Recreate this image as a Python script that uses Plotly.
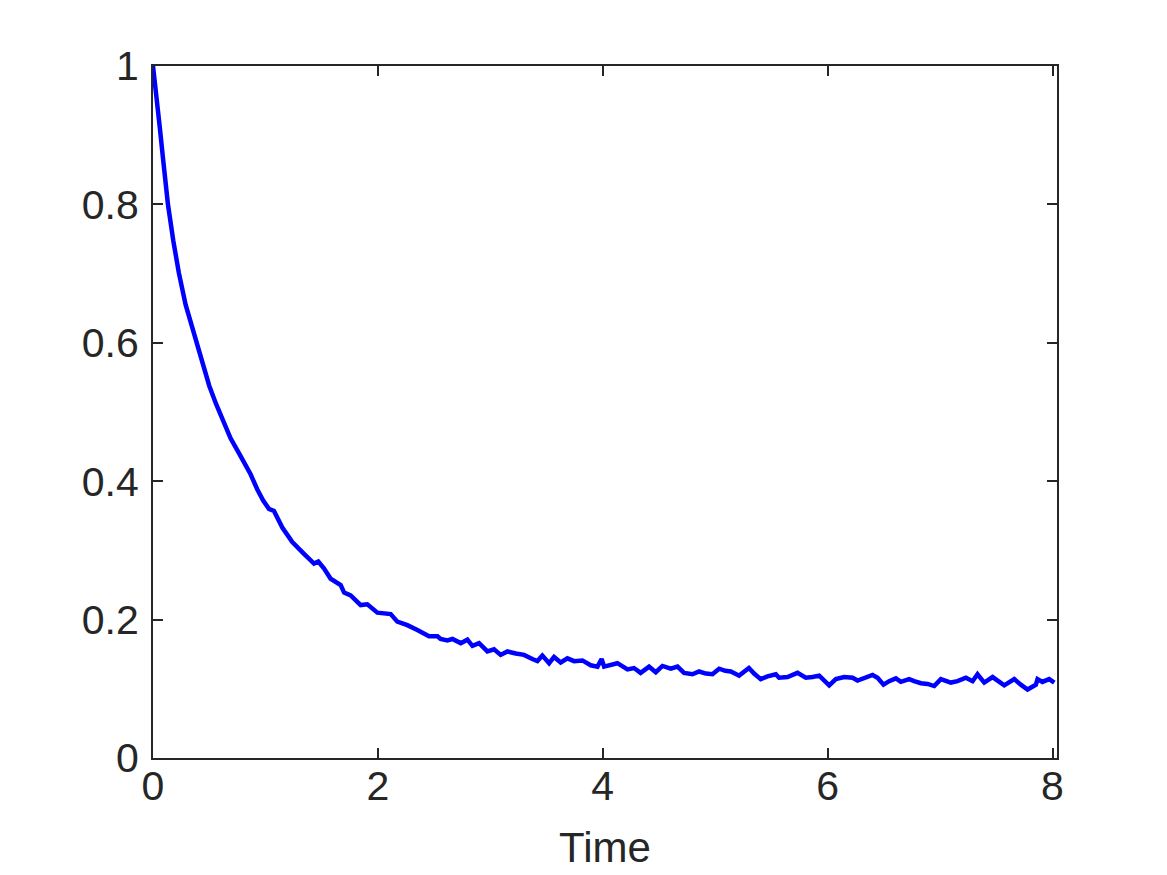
import plotly.graph_objects as go

time_vals = [0.00, 0.02, 0.04, 0.06, 0.09, 0.133, 0.18, 0.23, 0.29, 0.353, 0.42, 0.50, 0.56, 0.616,
             0.69, 0.773, 0.868, 0.928, 0.98, 1.031, 1.076, 1.150, 1.239, 1.343, 1.432, 1.47, 1.52,
             1.58, 1.669, 1.70, 1.758, 1.847, 1.906, 1.996, 2.114, 2.173, 2.262, 2.351, 2.41, 2.455,
             2.53, 2.558, 2.618, 2.663, 2.737, 2.796, 2.841, 2.90, 2.974, 3.033, 3.092, 3.152, 3.226,
             3.30, 3.374, 3.419, 3.463, 3.523, 3.567, 3.626, 3.686, 3.745, 3.819, 3.893, 3.953, 3.99,
             4.012, 4.056, 4.13, 4.22, 4.278, 4.337, 4.412, 4.472, 4.531, 4.605, 4.665, 4.723, 4.798,
             4.857, 4.917, 4.976, 5.035, 5.09, 5.139, 5.213, 5.30, 5.346, 5.405, 5.465, 5.539, 5.568,
             5.643, 5.732, 5.806, 5.866, 5.925, 6.014, 6.073, 6.147, 6.222, 6.266, 6.325, 6.40, 6.444,
             6.497, 6.547, 6.607, 6.651, 6.725, 6.770, 6.83, 6.889, 6.948, 7.007, 7.096, 7.155, 7.23,
             7.289, 7.333, 7.393, 7.467, 7.571, 7.66, 7.718, 7.778, 7.852, 7.867, 7.91, 7.97, 8.016]

values = [1.000, 0.965, 0.935, 0.912, 0.865, 0.800, 0.748, 0.701, 0.655, 0.620, 0.578, 0.538, 0.512, 0.491,
          0.462, 0.438, 0.410, 0.388, 0.372, 0.360, 0.357, 0.333, 0.312, 0.295, 0.281, 0.284, 0.274,
          0.259, 0.250, 0.239, 0.235, 0.221, 0.222, 0.210, 0.208, 0.197, 0.192, 0.185, 0.180, 0.176,
          0.176, 0.172, 0.170, 0.172, 0.166, 0.171, 0.162, 0.166, 0.154, 0.157, 0.149, 0.154, 0.151,
          0.149, 0.143, 0.140, 0.148, 0.137, 0.146, 0.138, 0.144, 0.140, 0.141, 0.134, 0.132, 0.143,
          0.132, 0.134, 0.137, 0.128, 0.130, 0.123, 0.132, 0.124, 0.133, 0.129, 0.132, 0.123, 0.121,
          0.125, 0.122, 0.121, 0.129, 0.126, 0.125, 0.119, 0.130, 0.122, 0.114, 0.118, 0.121, 0.116,
          0.117, 0.123, 0.116, 0.117, 0.119, 0.105, 0.114, 0.117, 0.116, 0.112, 0.116, 0.120, 0.116,
          0.106, 0.111, 0.115, 0.110, 0.114, 0.111, 0.108, 0.107, 0.104, 0.114, 0.109, 0.111, 0.116,
          0.111, 0.121, 0.109, 0.117, 0.105, 0.114, 0.106, 0.099, 0.106, 0.114, 0.110, 0.114, 0.109]

x_ticks = [0, 2, 4, 6, 8]
y_ticks = [0, 0.2, 0.4, 0.6, 0.8, 1]
y_tick_labels = ["0", "0.2", "0.4", "0.6", "0.8", "1"]

FONT = "Liberation Sans, Arial, Helvetica, sans-serif"

fig = go.Figure()
fig.add_trace(go.Scatter(x=time_vals, y=values, mode="lines",
                         line=dict(color="#0000ff", width=4.5), showlegend=False))

axis_common = dict(showline=True, linecolor="#262626", linewidth=2, mirror="ticks",
                   ticks="inside", ticklen=10, tickwidth=1.5, tickcolor="#262626",
                   showgrid=False, zeroline=False,
                   tickfont=dict(family=FONT, size=41, color="#262626"))

# page body has an 8px margin, so the figure is sized/placed to compensate
fig.update_layout(
    width=1159, height=867,
    margin=dict(l=145, r=110, t=58, b=112),
    paper_bgcolor="white", plot_bgcolor="white",
    xaxis=dict(range=[0, 8.04], tickvals=x_ticks, ticklabelstandoff=-9,
               title=dict(text="Time", standoff=24,
                          font=dict(family=FONT, size=42, color="#262626")),
               **axis_common),
    yaxis=dict(range=[0, 1], tickvals=y_ticks, ticktext=y_tick_labels, ticklabelstandoff=4,
               **axis_common),
)

fig.write_html("out.html")
